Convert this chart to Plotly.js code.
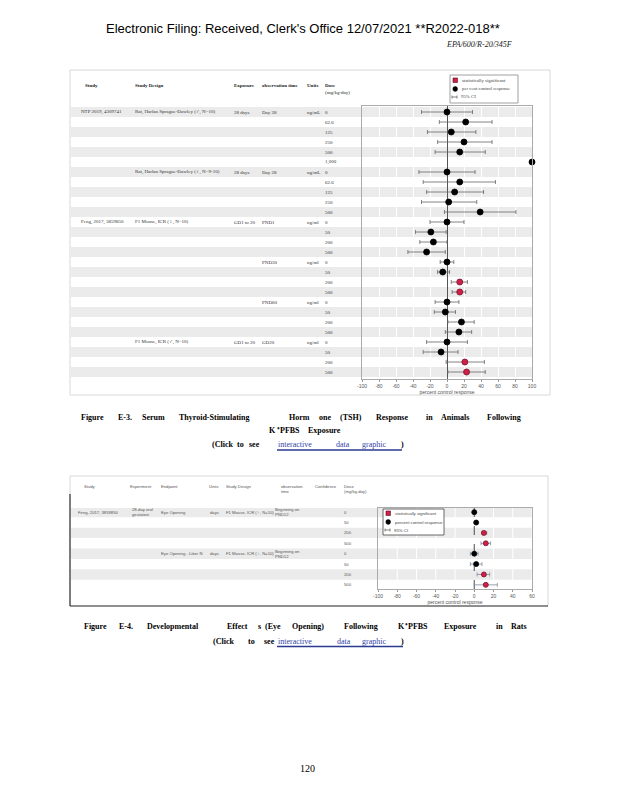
<!DOCTYPE html>
<html><head><meta charset="utf-8">
<script src="https://cdn.plot.ly/plotly-3.0.1.min.js"></script>
<style>html,body{margin:0;padding:0;background:#fff}#page{width:618px;height:800px}</style>
</head><body><div id="page"></div>
<script>
// ---------- Figure E-3 : TSH response (rows top to bottom) ----------
const tshStudy  = ["NTP 2019, 4309741","","","","","","","","","","","Feng, 2017, 3859850","","","","","","","","","","","","","","",""];
const tshDesign = ["Rat, Harlan Sprague-Dawley (♂, N=10)","","","","","","Rat, Harlan Sprague-Dawley (♀, N=9-10)","","","","","F1 Mouse, ICR (♀, N=10)","","","","","","","","","","","","F1 Mouse, ICR (♂, N=10)","","",""];
const tshExposure = ["28 days","","","","","","28 days","","","","","GD1 to 20","","","","","","","","","","","","GD1 to 20","","",""];
const tshObs    = ["Day 28","","","","","","Day 28","","","","","PND1","","","","PND30","","","","PND60","","","","GD20","","",""];
const tshUnits  = ["ng/mL","","","","","","ng/mL","","","","","ng/ml","","","","ng/ml","","","","ng/ml","","","","ng/ml","","",""];
const tshDose   = ["0","62.6","125","250","500","1,000","0","62.6","125","250","500","0","50","200","500","0","50","200","500","0","50","200","500","0","50","200","500"];
const tshValue  = [0,22,5,20,15,100, 0,15,9,2,39, 0,-19,-16,-24, 0,-5,15,15, 0,-2,17,14, 0,-7,21,23];
const tshLow    = [-30,-9,-23,-11,-14,null, -33,-28,-24,-30,-3, -20,-37,-32,-46, -8,-11,5,6, -14,-15,1,-2, -24,-28,-1,1];
const tshHigh   = [30,53,34,53,45,null, 33,57,43,35,81, 20,-1,0,-2, 8,3,24,22, 14,10,32,29, 24,13,44,45];
const tshSig    = [0,0,0,0,0,0, 0,0,0,0,0, 0,0,0,0, 0,0,1,1, 0,0,0,0, 0,0,1,1];
const tshTicks  = [-100,-80,-60,-40,-20,0,20,40,60,80,100];

// ---------- Figure E-4 : Eye opening ----------
const eyeStudy    = ["Feng, 2017, 3859850","","","","","","",""];
const eyeExperiment = ["28-day oral<br>gestation","","","","","","",""];
const eyeEndpoint = ["Eye Opening","","","","Eye Opening - Litter N","","",""];
const eyeUnits    = ["days","","","","days","","",""];
const eyeDesign   = ["F1 Mouse, ICR (♀, N=10)","","","","F1 Mouse, ICR (♂, N=10)","","",""];
const eyeObs      = ["Beginning on<br>PND12","","","","Beginning on<br>PND12","","",""];
const eyeDose     = ["0","50","200","500","0","50","200","500"];
const eyeValue    = [0,2,10,12, 0,2,10,12];
const eyeLow      = [null,null,8,7, -4,-4,3,0];
const eyeHigh     = [null,null,13,17, 4,8,16,24];
const eyeSig      = [0,0,1,1, 0,0,1,1];
const eyeTicks    = [-100,-80,-60,-40,-20,0,20,40,60];

const W=618,H=800;
const PX=x=>x/W, PY=y=>1-y/H;
const annotations=[], shapes=[];
function note(x,y,text,font,extra){annotations.push(Object.assign({xref:'paper',yref:'paper',x:PX(x),y:PY(y),text:text,showarrow:false,xanchor:'left',yanchor:'middle',align:'left',font:font,borderpad:0},extra||{}));}
function rowNote(x,yref,row,text,font,extra){if(!text)return;annotations.push(Object.assign({xref:'paper',yref:yref,x:PX(x),y:row,text:text,showarrow:false,xanchor:'left',yanchor:'middle',align:'left',font:font,borderpad:0},extra||{}));}
function rect(x0,y0,x1,y1,line,fill,layer){shapes.push({type:'rect',xref:'paper',yref:'paper',x0:PX(x0),x1:PX(x1),y0:PY(y0),y1:PY(y1),line:line,fillcolor:fill||'rgba(0,0,0,0)',layer:layer||'above'});}
function line(x0,y0,x1,y1,color,width,layer){shapes.push({type:'line',xref:'paper',yref:'paper',x0:PX(x0),x1:PX(x1),y0:PY(y0),y1:PY(y1),line:{color:color,width:width},layer:layer||'above'});}

// page header
note(303,28,"Electronic Filing: Received, Clerk's Office 12/07/2021 **R2022-018**",{family:'Liberation Sans, Arial',size:13,color:'#000'},{xanchor:'center'});
note(445,44,"EPA/600/R-20/345F",{family:'Liberation Serif',size:8,color:'#222',style:'italic'});

// ---------- top figure frame and table ----------
rect(70,70,550,395,{color:'#d8d8d8',width:1},null,'below');
const serif={family:'Liberation Serif',size:5,color:'#333'};
const serifB={family:'Liberation Serif',size:5,color:'#222'};
[[84,'<b>Study</b>'],[134,'<b>Study Design</b>'],[233,'<b>Exposure</b>'],[261,'<b>observation time</b>'],[306,'<b>Units</b>'],[324,'<b>Dose</b><br>(mg/kg-day)']].forEach(h=>note(h[0],82,h[1],serifB,{yanchor:'top'}));
tshDose.forEach((d,i)=>{
  const r=i+1;
  if(r%2===1) shapes.push({type:'rect',xref:'paper',yref:'y',x0:PX(71),x1:PX(532),y0:r-0.5,y1:r+0.5,fillcolor:'#ebebeb',line:{width:0},layer:'below'});
  rowNote(80,'y',r,tshStudy[i],serif);
  rowNote(134,'y',r,tshDesign[i],serif);
  rowNote(233,'y',r,tshExposure[i],serif);
  rowNote(261,'y',r,tshObs[i],serif);
  rowNote(306,'y',r,tshUnits[i],serif);
  rowNote(324,'y',r,d,serif);
});

// top legend (manual)
rect(450,75,518,103,{color:'#888',width:0.8},'#fff');
rect(453,78,457.5,82.5,{color:'#5a0f1f',width:0.6},'#d01f4a');
shapes.push({type:'circle',xref:'paper',yref:'paper',x0:PX(452.8),x1:PX(457.6),y0:PY(86.6),y1:PY(91.4),fillcolor:'#000',line:{color:'#000',width:0.5},layer:'above'});
line(452,97,457,97,'#555',0.7); line(452,95.5,452,98.5,'#555',0.7); line(457,95.5,457,98.5,'#555',0.7);
const legF={family:'Liberation Serif',size:4.8,color:'#444'};
note(461,80.5,'statistically significant',legF);
note(461,89,'per cent control response',legF);
note(460,97,'95% CI',legF);

// caption E-3
const capB={family:'Liberation Serif',size:8,color:'#000',weight:'bold'};
const capL={family:'Liberation Serif',size:8,color:'#3344aa'};
[[80,'Figure'],[117,'E-3.'],[141,'Serum'],[178,'Thyroid-Stimulating'],[288,'Horm'],[318,'one'],[339,'(TSH)'],[375,'Response'],[425,'in'],[440,'Animals'],[486,'Following']].forEach(w=>note(w[0],417,'<b>'+w[1]+'</b>',capB));
note(268,431,'<b>K</b>',capB); note(276,431,'<b>⁺PFBS</b>',capB); note(307,431,'<b>Exposure</b>',capB);
[[211,'(Click'],[236,'to'],[248,'see']].forEach(w=>note(w[0],444,'<b>'+w[1]+'</b>',capB));
[[277,'interactive'],[335,'data'],[361,'graphic']].forEach(w=>note(w[0],444,w[1],capL));
note(400,444,'<b>)</b>',capB);
line(277,450,402,450,'#2b3a8f',1.5);

// ---------- bottom figure frame and table ----------
rect(70,476,548,606,{color:'#d8d8d8',width:1},null,'below');
line(70,494,70,606,'#333',1.2); line(70,606,548,606,'#333',1.2);
const sans={family:'Liberation Sans, Arial',size:4.2,color:'#555'};
[[83,'Study'],[129,'Experiment'],[160,'Endpoint'],[208,'Units'],[225,'Study Design'],[280,'observation<br>time'],[314,'Confidence'],[343,'Dose<br>(mg/kg-day)']].forEach(h=>note(h[0],483,h[1],sans,{yanchor:'top'}));
eyeDose.forEach((d,i)=>{
  const r=i+1;
  if(r%2===1) shapes.push({type:'rect',xref:'paper',yref:'y2',x0:PX(71),x1:PX(532),y0:r-0.5,y1:r+0.5,fillcolor:'#ebebeb',line:{width:0},layer:'below'});
  rowNote(77,'y2',r,eyeStudy[i],sans);
  rowNote(131,'y2',r,eyeExperiment[i],sans);
  rowNote(160,'y2',r,eyeEndpoint[i],sans);
  rowNote(209,'y2',r,eyeUnits[i],sans);
  rowNote(225,'y2',r,eyeDesign[i],sans);
  rowNote(274,'y2',r,eyeObs[i],sans);
  rowNote(343,'y2',r,d,sans);
});
// white gridlines (skip zero) and dashed reference line for bottom plot
eyeTicks.forEach(t=>{ if(t!==0 && t!==-100) shapes.push({type:'line',xref:'x2',yref:'y2 domain',x0:t,x1:t,y0:0,y1:1,line:{color:'#fff',width:1},layer:'below'}); });
shapes.push({type:'line',xref:'x2',yref:'y2 domain',x0:0,x1:0,y0:0,y1:1,line:{color:'#222',width:0.8,dash:'dash'},layer:'below'});

// bottom legend (manual)
rect(383,509,444,535,{color:'#444',width:0.8},'#fff');
rect(386,511,390.5,515.5,{color:'#5a0f1f',width:0.6},'#d01f4a');
shapes.push({type:'circle',xref:'paper',yref:'paper',x0:PX(385.8),x1:PX(390.6),y0:PY(519.6),y1:PY(524.4),fillcolor:'#000',line:{color:'#000',width:0.5},layer:'above'});
line(385,530,390,530,'#555',0.7); line(385,528.5,385,531.5,'#555',0.7); line(390,528.5,390,531.5,'#555',0.7);
const legS={family:'Liberation Sans, Arial',size:4.3,color:'#444'};
note(394,513.5,'statistically significant',legS);
note(394,522,'percent control response',legS);
note(393,530,'95% CI',legS);

// caption E-4
[[83,'Figure'],[118,'E-4.'],[146,'Developmental'],[226,'Effect'],[257,'s'],[264,'(Eye'],[291,'Opening)'],[343,'Following'],[397,'K'],[443,'Exposure'],[495,'in'],[510,'Rats']].forEach(w=>note(w[0],626,'<b>'+w[1]+'</b>',capB));
note(404,626,'<b>⁺PFBS</b>',capB);
[[212,'(Click'],[247,'to'],[263,'see']].forEach(w=>note(w[0],641,'<b>'+w[1]+'</b>',capB));
[[277,'interactive'],[336,'data'],[361,'graphic']].forEach(w=>note(w[0],641,w[1],capL));
note(400,641,'<b>)</b>',capB);
line(277,646.5,403,646.5,'#2b3a8f',1.5);

// page number
note(307,768,'120',{family:'Liberation Serif',size:10,color:'#000'},{xanchor:'center'});

// ---------- traces ----------
function group(vals,lo,hi,sig,want){
  const x=[],y=[],p=[],m=[];
  vals.forEach((v,i)=>{ if(sig[i]===want){ x.push(v); y.push(i+1);
    p.push(hi[i]==null?0:hi[i]-v); m.push(lo[i]==null?0:v-lo[i]); }});
  return {x,y,p,m};
}
function trace(g,xa,ya,color,lineColor,size,errColor){
  return {type:'scatter',mode:'markers',x:g.x,y:g.y,xaxis:xa,yaxis:ya,showlegend:false,cliponaxis:false,
    marker:{color:color,size:size,line:{color:lineColor,width:0.8}},
    error_x:{type:'data',symmetric:false,array:g.p,arrayminus:g.m,color:errColor,thickness:0.8,width:2}};
}
const data=[
  trace(group(tshValue,tshLow,tshHigh,tshSig,0),'x','y','#000','#000',6,'#666'),
  trace(group(tshValue,tshLow,tshHigh,tshSig,1),'x','y','#d01f4a','#7a1428',6,'#666'),
  trace(group(eyeValue,eyeLow,eyeHigh,eyeSig,0),'x2','y2','#000','#000',5,'#7d8c9c'),
  trace(group(eyeValue,eyeLow,eyeHigh,eyeSig,1),'x2','y2','#d01f4a','#7a1428',5,'#7d8c9c')
];

const axFont={family:'Liberation Sans, Arial',size:5,color:'#555'};
const layout={
  width:W,height:H,margin:{l:0,r:0,t:0,b:0},paper_bgcolor:'#fff',plot_bgcolor:'rgba(0,0,0,0)',showlegend:false,
  xaxis:{domain:[PX(362),PX(532)],range:[-100,100],anchor:'y',tickvals:tshTicks,ticktext:tshTicks.map(String),tickfont:axFont,
    ticks:'outside',ticklen:2,tickcolor:'#999',showline:true,mirror:true,linecolor:'#aaa',linewidth:1,
    showgrid:true,gridcolor:'#fff',gridwidth:1,zeroline:true,zerolinecolor:'#555',zerolinewidth:1,
    title:{text:'percent control response',font:axFont,standoff:1}},
  yaxis:{domain:[PY(379),PY(106)],range:[27.7,0.4],anchor:'x',showticklabels:false,ticks:'',showgrid:false,zeroline:false,
    showline:true,mirror:true,linecolor:'#aaa',linewidth:1},
  xaxis2:{domain:[PX(378),PX(532)],range:[-100,60],anchor:'y2',tickvals:eyeTicks,ticktext:eyeTicks.map(String),tickfont:axFont,
    ticks:'outside',ticklen:2,tickcolor:'#999',showline:true,mirror:true,linecolor:'#aaa',linewidth:1,
    showgrid:false,zeroline:false,
    title:{text:'percent control response',font:axFont,standoff:1}},
  yaxis2:{domain:[PY(589),PY(508)],range:[8.4,0.6],anchor:'x2',showticklabels:false,ticks:'',showgrid:false,zeroline:false,
    showline:true,mirror:true,linecolor:'#aaa',linewidth:1},
  annotations:annotations,shapes:shapes
};
Plotly.newPlot('page',data,layout,{staticPlot:true,displayModeBar:false});
</script></body></html>
